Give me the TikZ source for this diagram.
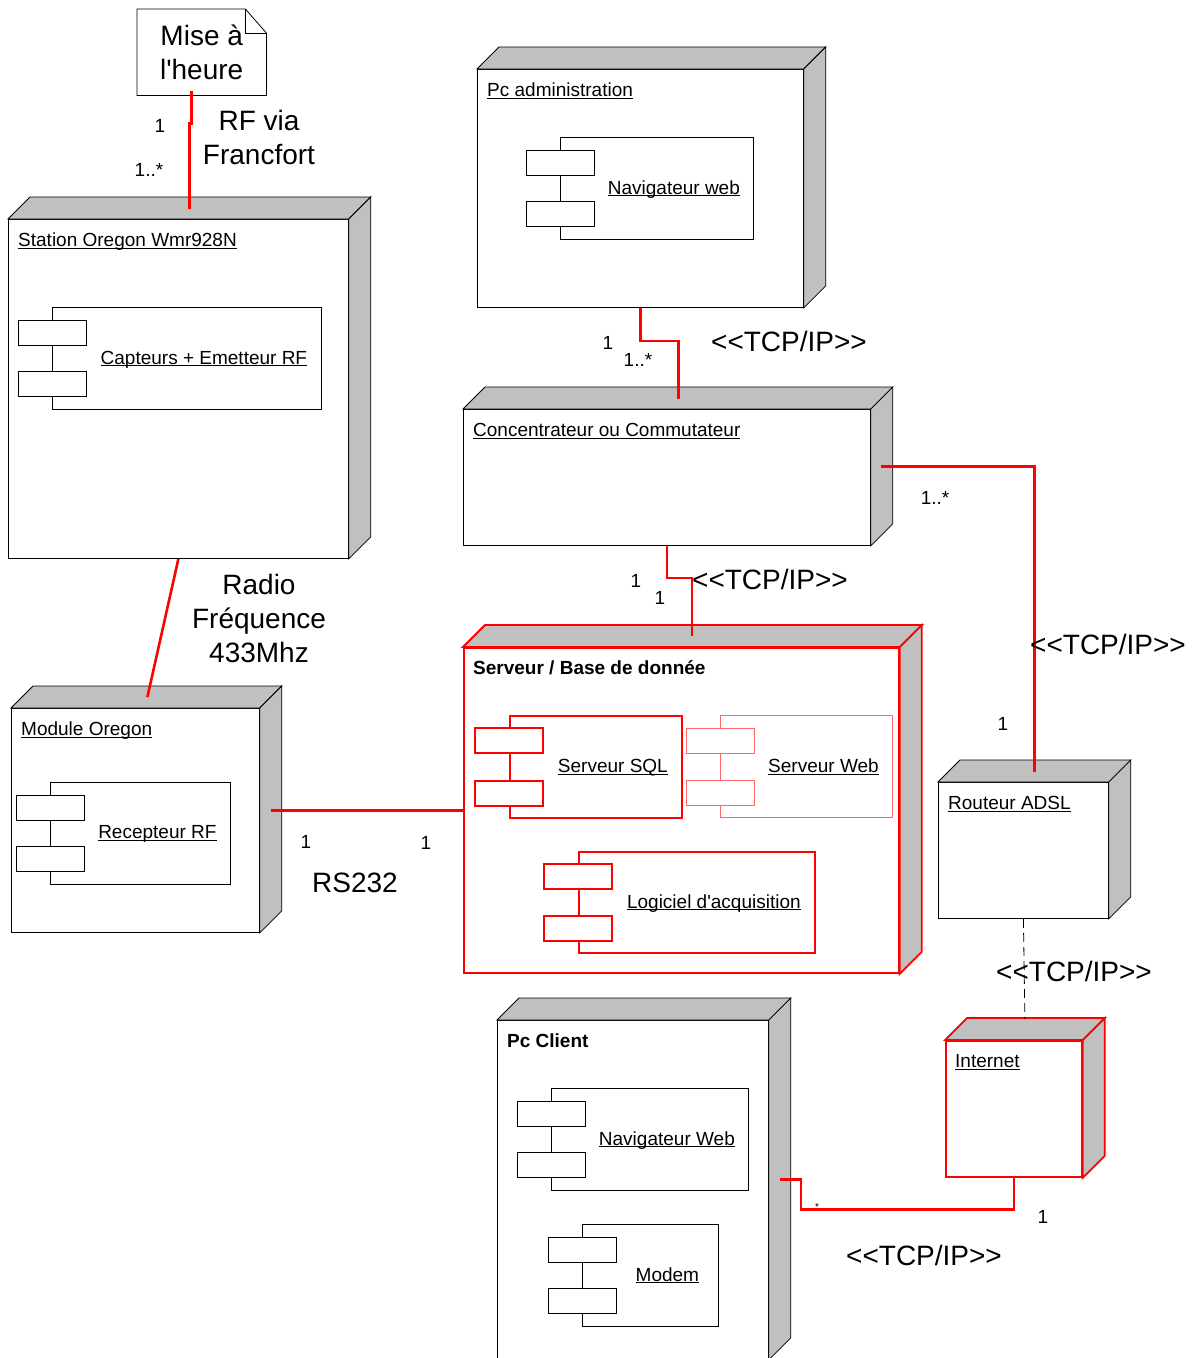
\documentclass[tikz,border=0pt]{standalone}
\usepackage{fontspec}
\setmainfont{Liberation Sans}[Ligatures=TeXOff]
\definecolor{boxgray}{HTML}{C0C0C0}
\newcommand{\uname}[1]{\underline{\raisebox{0pt}[\height][0pt]{#1}}}

\begin{document}
\begin{tikzpicture}[x=1pt, y=-1pt,
    every node/.style={font=\fontsize{19}{23}\selectfont},
    box/.style={draw, line width=0.8pt, fill=white, inner sep=0, anchor=north west},
    redbox/.style={box, draw=red, line width=1.8pt},
    comp/.style={draw, line width=0.8pt, fill=white, inner sep=0, anchor=north west,
        minimum height=102pt, execute at begin node={\hspace*{34pt}}},
    title/.style={anchor=base west, inner sep=0},
    big/.style={font=\fontsize{28}{34}\selectfont, align=center},
    link/.style={red, line width=2.6pt},
    plain/.style={black, line width=0.8pt},
    rededge/.style={draw=red, line width=1.8pt},
    lightedge/.style={draw=red!60, line width=1pt}
]
\useasboundingbox (0,0) rectangle (1193,1358);

% note
\node[minimum width=129pt, minimum height=86pt, inner sep=0, anchor=north west, big] (note) at (137,9) {Mise à\\l'heure};
\draw[plain] (note.south west) -- (note.north west) -- ([xshift=-21pt]note.north east)
    -- ([yshift=-24pt]note.north east) -- (note.south east) -- cycle;
\draw[plain] ([xshift=-21pt]note.north east) -- ++(0,-24pt) -- ++(21pt,0);

% nodes
\node[box, minimum width=340pt, minimum height=339pt] (station) at (8,219) {};
\node[box, minimum width=326pt, minimum height=238pt] (admin) at (477,69) {};
\node[box, minimum width=407pt, minimum height=136pt] (conc) at (463,409) {};
\node[redbox, minimum width=435pt, minimum height=325pt] (serveur) at (463,647) {};
\node[box, minimum width=248pt, minimum height=224pt] (module) at (11,708) {};
\node[box, minimum width=170pt, minimum height=136pt] (routeur) at (938,782) {};
\node[redbox, minimum width=136pt, minimum height=136pt] (internet) at (945,1040) {};
\node[box, minimum width=271pt, minimum height=339pt] (client) at (497,1020) {};

\foreach \n/\s in {station/plain, admin/plain, conc/plain, module/plain, routeur/plain,
    client/plain, serveur/rededge, internet/rededge} {
  \filldraw[\s, fill=boxgray] (\n.north west) -- ++(22pt,22pt)
      -- ([shift={(22pt,22pt)}]\n.north east) -- (\n.north east) -- cycle;
  \filldraw[\s, fill=boxgray] (\n.north east) -- ++(22pt,22pt)
      -- ([shift={(22pt,22pt)}]\n.south east) -- (\n.south east) -- cycle;
}

\node[title] (station-t) at ([shift={(10pt,-27.5pt)}]station.north west) {\uname{Station Oregon Wmr928N}};
\node[title] (admin-t) at ([shift={(10pt,-27.5pt)}]admin.north west) {\uname{Pc administration}};
\node[title] (conc-t) at ([shift={(10pt,-27.5pt)}]conc.north west) {\uname{Concentrateur ou Commutateur}};
\node[title] (serveur-t) at ([shift={(10pt,-27.5pt)}]serveur.north west) {\textbf{Serveur / Base de donnée}};
\node[title] (module-t) at ([shift={(10pt,-27.5pt)}]module.north west) {\uname{Module Oregon}};
\node[title] (routeur-t) at ([shift={(10pt,-27.5pt)}]routeur.north west) {\uname{Routeur ADSL}};
\node[title] (internet-t) at ([shift={(10pt,-27.5pt)}]internet.north west) {\uname{Internet}};
\node[title] (client-t) at ([shift={(10pt,-27.5pt)}]client.north west) {\textbf{Pc Client}};

% components
\node[comp, minimum width=269pt] (capt) at (52,307) {\uname{Capteurs + Emetteur RF}};
\node[comp, minimum width=193pt] (nav) at (560,137) {\uname{Navigateur web}};
\node[comp, minimum width=180pt] (recep) at (50,782) {\uname{Recepteur RF}};
\node[comp, rededge, minimum width=172pt] (sql) at (509,715) {\uname{Serveur SQL}};
\node[comp, lightedge, minimum width=172pt] (web) at (720,715) {\uname{Serveur Web}};
\node[comp, rededge, minimum width=236pt, minimum height=101pt] (logi) at (578,851) {\uname{Logiciel d'acquisition}};
\node[comp, minimum width=197pt] (navc) at (551,1088) {\uname{Navigateur Web}};
\node[comp, minimum width=136pt] (modem) at (582,1224) {\uname{Modem}};

\foreach \n/\s in {capt/plain, nav/plain, recep/plain, sql/rededge, web/lightedge,
    logi/rededge, navc/plain, modem/plain} {
  \filldraw[\s, fill=white] ([shift={(-34pt,-13pt)}]\n.north west) rectangle ++(68pt,-25pt);
  \filldraw[\s, fill=white] ([shift={(-34pt,13pt)}]\n.south west) rectangle ++(68pt,25pt);
}

% connectors
\draw[link] ([shift={(-10pt,4pt)}]note.south) -- ++(0,-32pt) -| ([shift={(11pt,10pt)}]station.north);
\draw[link] (station.south) -- ([shift={(12pt,11pt)}]module.north);
\draw[link] (serveur.west -| module.east) ++(11pt,0) -- (serveur.west);
\draw[link] (admin.south) -- ++(0,-33pt) -| ([shift={(11.5pt,10pt)}]conc.north);
\draw[link] (conc.south) -- ++(0,-32pt) -| ([shift={(10.5pt,11pt)}]serveur.north);
\draw[link] ([shift={(10pt,11pt)}]conc.east) -| ([shift={(11pt,10pt)}]routeur.north);
\draw[black, line width=0.8pt, dash pattern=on 9pt off 5pt] (routeur.south) -- ([shift={(11pt,21pt)}]internet.north);
\draw[link] ([shift={(11pt,10.5pt)}]client.east) -| ++(21pt,-30pt) -| (internet.south);

% labels
\node (m-note) at (160,126) {1};
\node (m-station) at (149,170) {1..*};
\node[big] (rf) at (259,137) {RF via\\Francfort};
\node[big] (radio) at (259,618) {Radio\\Fréquence\\433Mhz};
\node (m-mod) at (306,842) {1};
\node (m-serv) at (426,843) {1};
\node[big] (rs) at (355,883) {RS232};
\node (m-admin) at (608,343) {1};
\node (m-conc) at (638,360) {1..*};
\node[big] (tcp1) at (789,341) {<<TCP/IP>>};
\node (m-conc2) at (636,581) {1};
\node (m-serv2) at (660,598) {1};
\node[big] (tcp2) at (770,579) {<<TCP/IP>>};
\node (m-conc3) at (935,498) {1..*};
\node[big] (tcp3) at (1108,644) {<<TCP/IP>>};
\node (m-rout) at (1003,724) {1};
\node[big] (tcp4) at (1074,971) {<<TCP/IP>>};
\node[font=\fontsize{10}{12}\selectfont] (m-client) at (817,1207) {*};
\node (m-inet) at (1043,1217) {1};
\node[big] (tcp5) at (924,1255) {<<TCP/IP>>};
\end{tikzpicture}
\end{document}
